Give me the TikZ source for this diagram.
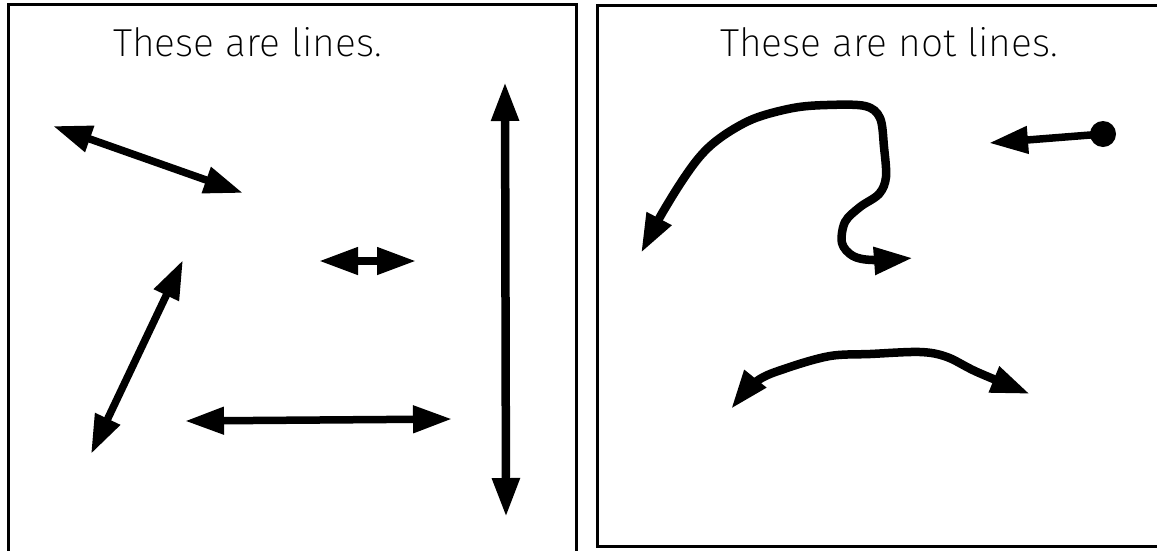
\documentclass[tikz,border=0pt]{standalone}
\usepackage{fontspec}
\setmainfont{Fira Sans}[UprightFont={* ExtraLight}]
\usetikzlibrary{arrows.meta}
\begin{document}
\begin{tikzpicture}[x=1pt,y=-1pt,
  frame/.style={line width=3pt},
  arr/.style={line width=7.5pt, {Triangle[length=39pt,width=26pt]}-{Triangle[length=39pt,width=26pt]}},
  onearr/.style={line width=7.5pt, -{Triangle[length=39pt,width=26pt]}},
  title/.style={anchor=base west, inner sep=0pt, font=\fontsize{39}{46}\selectfont}]
\useasboundingbox (0,0) rectangle (1157,550);
\fill[white] (0,0) rectangle (1157,550);
% frames
\draw[frame] (8,4) rectangle (576,570);
\draw[frame] (597,5) rectangle (1175,546);
% titles
\node[title] (t1) at (113,56) {These are lines.};
\node[title] (t2) at (720,56) {These are not lines.};
% left panel endpoints
\coordinate (a1) at (53,126);  \coordinate (a2) at (243,193);
\coordinate (b1) at (505,82);  \coordinate (b2) at (506,517);
\coordinate (s1) at (319,261); \coordinate (s2) at (416,261);
\coordinate (c1) at (183,260); \coordinate (c2) at (91,454);
\coordinate (d1) at (185,421); \coordinate (d2) at (452,419);
\draw[arr] (a1) -- (a2);
\draw[arr, line width=8.5pt] (b1) -- (b2);
\draw[arr] (s1) -- (s2);
\draw[arr] (c1) -- (c2);
\draw[arr] (d1) -- (d2);
% right panel
\node[circle, fill=black, minimum size=26pt, inner sep=0pt] (dot) at (1103,134) {};
\coordinate (e2) at (989,143);
\draw[onearr] (dot.center) -- (e2);
\draw[arr, line width=8.5pt] plot[smooth, tension=0.55] coordinates {(641,253) (670,200) (697,160) (720,138) (753,119) (793,108) (827,105) (865,106) (880,118) (884,147) (886,177) (879,194) (860,207) (845,222) (842,243) (853,256) (873,260) (913,258)};
\draw[arr, line width=8.5pt] plot[smooth, tension=0.55] coordinates {(731,409) (757,381) (787,368) (830,356) (870,354) (920,352) (947,357) (977,372) (1030,394)};
\end{tikzpicture}
\end{document}
